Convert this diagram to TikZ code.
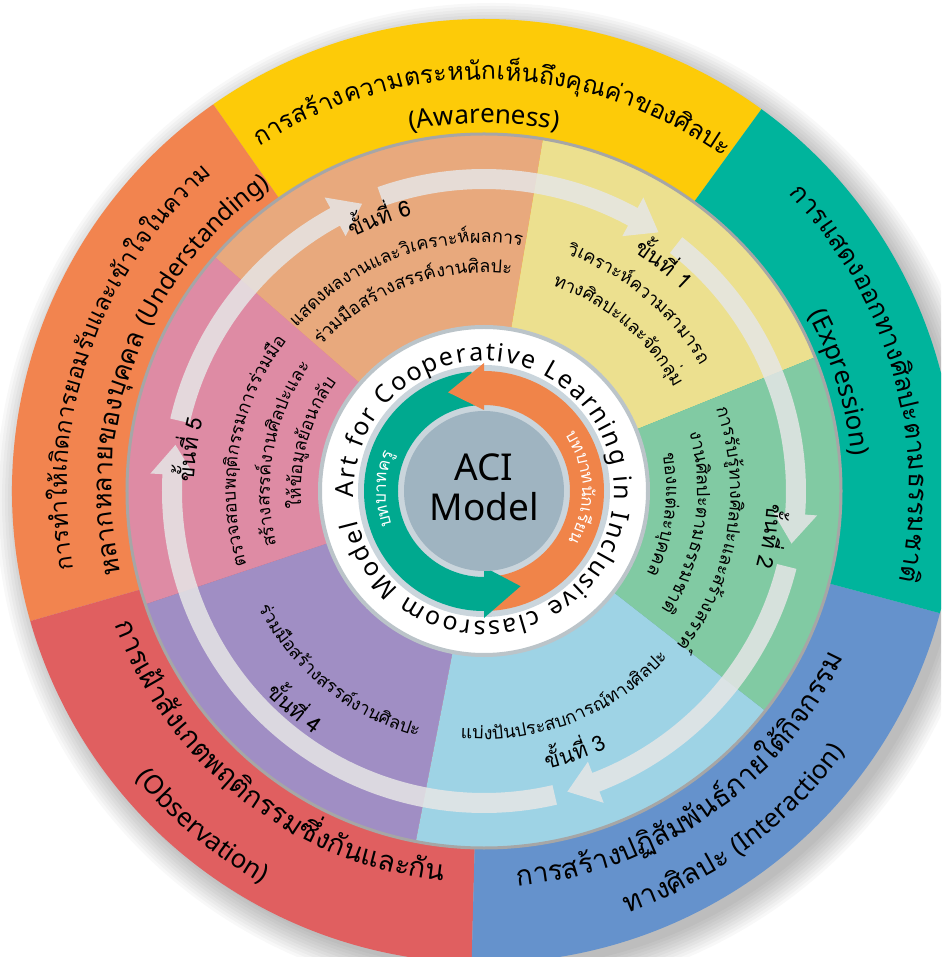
\documentclass[tikz,border=0pt]{standalone}
\usepackage{fontspec}
\setmainfont{Noto Sans}
\newfontfamily\thaifont[Script=Thai]{Loma}
\usetikzlibrary{decorations.text}

\definecolor{oYellow}{HTML}{FDCB08}
\definecolor{oTeal}{HTML}{00B49C}
\definecolor{oBlue}{HTML}{6592CC}
\definecolor{oRed}{HTML}{E05F60}
\definecolor{oOrange}{HTML}{F2844F}
\definecolor{mPeach}{HTML}{E8A97D}
\definecolor{mYellow}{HTML}{ECE08F}
\definecolor{mGreen}{HTML}{81CAA3}
\definecolor{mBlue}{HTML}{9ED3E5}
\definecolor{mPurple}{HTML}{A08EC4}
\definecolor{mPink}{HTML}{DE8BA4}
\definecolor{aciC}{HTML}{9FB4C1}
\definecolor{lgray}{HTML}{CAD5DC}
\definecolor{arTeal}{HTML}{00A98F}
\definecolor{arOrange}{HTML}{F08449}
\definecolor{bandGray}{HTML}{E6E6E6}

\newcommand\fOut{\thaifont\fontsize{28}{30}\selectfont}
\newcommand\fOutR{\thaifont\fontsize{26}{28}\selectfont}
\newcommand\fOutA{\thaifont\fontsize{24.9}{27}\selectfont}
\newcommand\fOutB{\thaifont\fontsize{26.5}{28}\selectfont}
\newcommand\fOutC{\thaifont\fontsize{23.7}{26}\selectfont}
\newcommand\fOutE{\fontsize{26}{28}\selectfont}
\newcommand\fOutEs{\fontsize{24.5}{27}\selectfont}
\newcommand\fLab{\thaifont\fontsize{22}{24}\selectfont}
\newcommand\fStep{\thaifont\fontsize{18}{20}\selectfont}
\newcommand\fRing{\fontsize{25}{27}\selectfont}
\newcommand\fBand{\color{white}\thaifont\fontsize{17}{19}\selectfont}

% clockwise arc text (letters point outward), centred at angle #2, baseline radius #1
\newcommand\cwtext[4]{\path[decorate,decoration={text along path,text align=center,text={|#3|#4}}] ({#2+90}:#1) arc[start angle={#2+90},end angle={#2-90},radius=#1];}
% counter-clockwise arc text (letters point inward)
\newcommand\ccwtext[4]{\path[decorate,decoration={text along path,text align=center,text={|#3|#4}}] ({#2-90}:#1) arc[start angle={#2-90},end angle={#2+90},radius=#1];}
% sector
\newcommand\sector[4]{\fill[#4] (0,0) -- ({#2}:#1) arc[start angle={#2},end angle={#3},radius=#1] -- cycle;}
% band arrow from angle #1 clockwise to tip angle #2
\newcommand\bandarrow[2]{\fill[bandc] ({#1}:302) arc[start angle={#1},end angle={#2+5.5},radius=302] -- ({#2+5.5}:290) -- ({#2}:312) -- ({#2+5.5}:334) -- ({#2+5.5}:322) arc[start angle={#2+5.5},end angle={#1},radius=322] -- cycle;}

\tikzset{bandc/.style={fill=bandGray,opacity=0.85}}

\begin{document}
\begin{tikzpicture}[x=1pt,y=1pt]
\useasboundingbox (-484,-466) rectangle (457,491);
\clip (-484,-466) rectangle (457,491);
\fill[white] (-484,-466) rectangle (457,491);
% shadow
\foreach \k in {0,...,9} \fill[black,opacity=0.028] (9,-9) circle ({470+3*\k});
% outer ring
\sector{472}{54}{125}{oYellow}
\sector{472}{125}{196}{oOrange}
\sector{472}{196}{268.5}{oRed}
\sector{472}{-91.5}{-15}{oBlue}
\sector{472}{-15}{54}{oTeal}
% middle ring
\sector{357}{22}{80.5}{mYellow}
\sector{357}{80.5}{139}{mPeach}
\sector{357}{139}{198.5}{mPink}
\sector{357}{198.5}{259}{mPurple}
\sector{357}{-101}{-38}{mBlue}
\sector{357}{-38}{22}{mGreen}
\draw[gray!70,line width=3] (0,0) circle (357);
% circular band arrows
\bandarrow{109.3}{56}
\bandarrow{52}{-9.7}
\bandarrow{-14}{-74.5}
\bandarrow{-76.9}{-188.5}
\bandarrow{167}{113}
% white ring
\fill[white] (0,0) circle (163);
\draw[lgray!80!gray,line width=4] (0,0) circle (164);
\fill[lgray] (0,0) circle (126);
% centre arrows
\fill[arOrange] (-86:86) arc[start angle=-86,end angle=90,radius=86] -- (90:120) arc[start angle=90,end angle=-86,radius=120] -- cycle;
\fill[arTeal] (96:86) arc[start angle=96,end angle=270,radius=86] -- (270:120) arc[start angle=270,end angle=96,radius=120] -- cycle;
\fill[arTeal] (270:76) -- (270:127) -- (291:102) -- cycle;
\fill[arOrange] (90:81) -- (90:128) -- (110:105) -- cycle;
\fill[aciC] (0,0) circle (80);
\node[align=center,font=\fontsize{37}{40}\selectfont,inner sep=0] (aci) at (0,4) {ACI\\Model};
\cwtext{98}{179}{\fBand}{{บท}{บาท}{ครู}}
\cwtext{98}{2}{\fBand}{{บท}{บาท}{นัก}{เรียน}}
% ring text
\path[decorate,decoration={text along path,text align={fit to path},text={|\fRing|Art for Cooperative Learning in Inclusive classroom Model}}] (183:130) arc[start angle=183,end angle=-167,radius=130];
% outer labels
\cwtext{411}{88.7}{\fOutA}{{การ}{สร้าง}{ความ}{ตระ}{หนัก}{เห็น}{ถึง}{คุณ}{ค่า}{ของ}{ศิลปะ}}
\cwtext{368}{90}{\fOutE}{(Awareness)}
\cwtext{417}{160.7}{\fOutC}{{การ}{ทำ}{ให้}{เกิด}{การ}{ยอม}{รับ}{และ}{เข้า}{ใจ}{ใน}{ความ}}
\cwtext{372}{159}{\fOutB}{{หลาก}{หลาย}{ของ}{บุคคล} |\fOutEs|(Understanding)}
\cwtext{425}{16}{\fOutR}{{การ}{แสดง}{ออก}{ทาง}{ศิลปะ}{ตาม}{ธรรม}{ชาติ}}
\cwtext{369}{17}{\fOutE}{(Expression)}
\ccwtext{396}{-55}{\fOut}{{การ}{สร้าง}{ปฏิ}{สัม}{พันธ์}{ภาย}{ใต้}{กิจ}{กรรม}}
\ccwtext{445}{-53.5}{\fOut}{{ทาง}{ศิลปะ} |\fOutE|(Interaction)}
\ccwtext{392}{-128}{\fOut}{{การ}{เฝ้า}{สัง}{เกต}{พฤติ}{กรรม}{ซึ่ง}{กัน}{และ}{กัน}}
\ccwtext{451}{-130}{\fOutE}{(Observation)}
% step texts
\cwtext{285}{111}{\fLab}{{ขั้น}{ที่} 6}
\cwtext{248}{110}{\fStep}{{แสดง}{ผล}{งาน}{และ}{วิ}{เคราะห์}{ผล}{การ}}
\cwtext{218}{110.5}{\fStep}{{ร่วม}{มือ}{สร้าง}{สรรค์}{งาน}{ศิลปะ}}
\cwtext{282}{51.6}{\fLab}{{ขั้น}{ที่} 1}
\cwtext{250}{50.5}{\fStep}{{วิ}{เคราะห์}{ความ}{สามารถ}}
\cwtext{216}{50}{\fStep}{{ทาง}{ศิลปะ}{และ}{จัด}{กลุ่ม}}
\cwtext{283}{-9}{\fLab}{{ขั้น}{ที่} 2}
\cwtext{246}{-9.5}{\fStep}{{การ}{รับ}{รู้}{ทาง}{ศิลปะ}{และ}{สร้าง}{สรรค์}}
\cwtext{213}{-9}{\fStep}{{งาน}{ศิลปะ}{ตาม}{ธรรม}{ชาติ}}
\cwtext{182}{-7.5}{\fStep}{{ของ}{แต่}{ละ}{บุคคล}}
\ccwtext{285}{-70.8}{\fLab}{{ขั้น}{ที่} 3}
\ccwtext{248}{-68.8}{\fStep}{{แบ่ง}{ปัน}{ประ}{สบ}{การณ์}{ทาง}{ศิลปะ}}
\ccwtext{297}{-131}{\fLab}{{ขั้น}{ที่} 4}
\ccwtext{254}{-128.8}{\fStep}{{ร่วม}{มือ}{สร้าง}{สรรค์}{งาน}{ศิลปะ}}
\cwtext{290}{172}{\fLab}{{ขั้น}{ที่} 5}
\cwtext{248}{170}{\fStep}{{ตรวจ}{สอบ}{พฤติ}{กรรม}{การ}{ร่วม}{มือ}}
\cwtext{214}{169.5}{\fStep}{{สร้าง}{สรรค์}{งาน}{ศิลปะ}{และ}}
\cwtext{183}{164.5}{\fStep}{{ให้}{ข้อ}{มูล}{ย้อน}{กลับ}}
\end{tikzpicture}
\end{document}
